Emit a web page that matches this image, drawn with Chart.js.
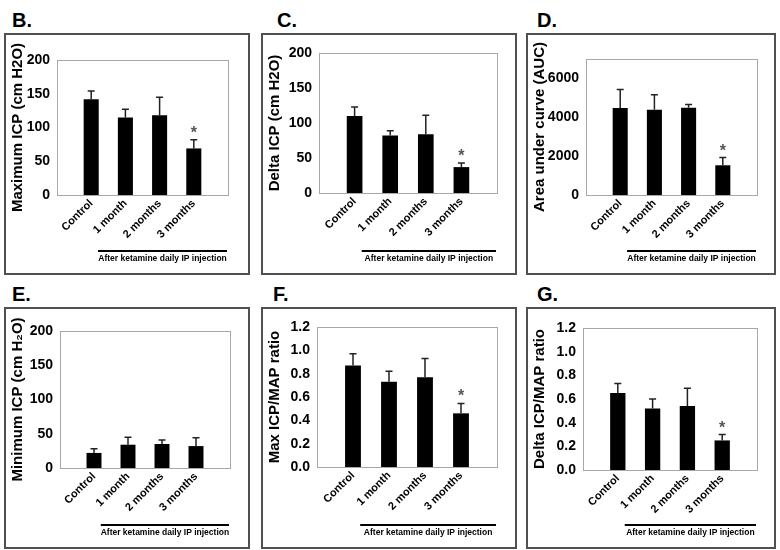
<!DOCTYPE html>
<html><head><meta charset="utf-8">
<script src="https://cdn.jsdelivr.net/npm/chart.js@4.4.0/dist/chart.umd.min.js"></script>
<style>
body{margin:0;background:#fff;width:780px;height:550px;position:relative;overflow:hidden;font-family:"Liberation Sans",Arial,sans-serif;}
.lbl{position:absolute;font-weight:bold;font-size:20px;line-height:20px;color:#000;}
.wrap{position:absolute;}
</style></head><body>
<script>
// ---- data ----
const categories = ["Control", "1 month", "2 months", "3 months"];
const groupLabel = "After ketamine daily IP injection";

const maxIcp = [142, 115, 118, 69];
const maxIcpErr = [12, 12, 27, 13];
const deltaIcp = [110, 82, 84, 37];
const deltaIcpErr = [13, 7, 27, 6];
const auc = [4480, 4390, 4490, 1530];
const aucErr = [950, 770, 170, 400];
const minIcp = [22, 34, 35, 32];
const minIcpErr = [6, 11, 6, 12];
const maxRatio = [0.87, 0.73, 0.77, 0.46];
const maxRatioErr = [0.10, 0.09, 0.16, 0.085];
const deltaRatio = [0.65, 0.52, 0.54, 0.25];
const deltaRatioErr = [0.08, 0.08, 0.15, 0.05];

const sigMarked = [false, false, false, true];
const sigNone = [false, false, false, false];

const ticksIcp = [0, 50, 100, 150, 200];
const ticksAuc = [0, 2000, 4000, 6000];
const ticksRatio = [0, 0.2, 0.4, 0.6, 0.8, 1.0, 1.2];

const FAM = '"Liberation Sans", Arial, sans-serif';

const panels = [
  {letter:"B.", lx:12, ly:10, box:[4,33,246,242], yW:53, padTop:27, padRight:22, xH:80,
   title:"Maximum ICP (cm H2O)", values:maxIcp, errs:maxIcpErr, sig:sigMarked, ticks:ticksIcp, max:200, dec:0},
  {letter:"C.", lx:277, ly:10, box:[261,33,256,242], yW:58, padTop:20, padRight:20, xH:82,
   title:"Delta ICP (cm H2O)", values:deltaIcp, errs:deltaIcpErr, sig:sigMarked, ticks:ticksIcp, max:200, dec:0},
  {letter:"D.", lx:537, ly:10, box:[526,33,250,242], yW:60, padTop:26, padRight:19, xH:80,
   title:"Area under curve (AUC)", values:auc, errs:aucErr, sig:sigMarked, ticks:ticksAuc, max:7000, dec:0},
  {letter:"E.", lx:12, ly:284, box:[4,307,246,242], yW:56, padTop:24, padRight:20, xH:81,
   title:"Minimum ICP (cm H\u2082O)", values:minIcp, errs:minIcpErr, sig:sigNone, ticks:ticksIcp, max:200, dec:0},
  {letter:"F.", lx:273, ly:284, box:[261,307,256,242], yW:56, padTop:20, padRight:20, xH:82,
   title:"Max ICP/MAP ratio", values:maxRatio, errs:maxRatioErr, sig:sigMarked, ticks:ticksRatio, max:1.2, dec:1},
  {letter:"G.", lx:537, ly:284, box:[526,307,250,242], yW:57, padTop:21, padRight:19, xH:79,
   title:"Delta ICP/MAP ratio", values:deltaRatio, errs:deltaRatioErr, sig:sigMarked, ticks:ticksRatio, max:1.2, dec:1}
];

// padded category axis: empty slot at each end so bars sit at 1/5 .. 4/5 of the plot width
const xLabels = [""].concat(categories, [""]);

const panelPlugin = {
  id: 'panelDeco',
  beforeDatasetsDraw(chart) {
    const ctx = chart.ctx, a = chart.chartArea;
    ctx.save();
    ctx.strokeStyle = '#a8a8a8';
    ctx.lineWidth = 1;
    ctx.strokeRect(Math.round(a.left) + 0.5, Math.round(a.top) + 0.5, Math.round(a.right - a.left), Math.round(a.bottom - a.top));
    ctx.restore();
  },
  afterDatasetsDraw(chart) {
    const ctx = chart.ctx, a = chart.chartArea;
    const p = chart.config.options.plugins.panelDeco;
    const xs = chart.scales.x, ys = chart.scales.y;
    ctx.save();
    // error bars
    ctx.strokeStyle = '#222';
    ctx.lineWidth = 1.5;
    p.values.forEach((v, i) => {
      const x = xs.getPixelForValue(i + 1);
      const y0 = ys.getPixelForValue(v);
      const y1 = ys.getPixelForValue(v + p.errs[i]);
      ctx.beginPath();
      ctx.moveTo(x, y0); ctx.lineTo(x, y1);
      ctx.moveTo(x - 3.5, y1); ctx.lineTo(x + 3.5, y1);
      ctx.stroke();
      if (p.sig[i]) {
        ctx.fillStyle = '#555';
        ctx.font = 'bold 16px ' + FAM;
        ctx.textAlign = 'center';
        ctx.textBaseline = 'alphabetic';
        ctx.fillText('*', x, y1 - 2);
      }
    });
    // group bracket
    const h = chart.height, w = chart.width;
    const lx0 = xs.getPixelForValue(1.2), lx1 = a.right - 1;
    const ly = h - 24;
    ctx.strokeStyle = '#000';
    ctx.lineWidth = 2;
    ctx.beginPath(); ctx.moveTo(lx0, ly); ctx.lineTo(lx1, ly); ctx.stroke();
    ctx.fillStyle = '#000';
    ctx.font = 'bold 8.5px ' + FAM;
    ctx.textAlign = 'center';
    ctx.textBaseline = 'middle';
    ctx.fillText(groupLabel, (lx0 + lx1) / 2, ly + 8);
    // panel box
    ctx.strokeStyle = '#505050';
    ctx.lineWidth = 2;
    ctx.strokeRect(1, 1, w - 2, h - 2);
    ctx.restore();
  }
};

panels.forEach(p => {
  const lab = document.createElement('div');
  lab.className = 'lbl';
  lab.style.left = p.lx + 'px'; lab.style.top = p.ly + 'px';
  lab.textContent = p.letter;
  document.body.appendChild(lab);

  const wrap = document.createElement('div');
  wrap.className = 'wrap';
  wrap.style.left = p.box[0] + 'px'; wrap.style.top = p.box[1] + 'px';
  wrap.style.width = p.box[2] + 'px'; wrap.style.height = p.box[3] + 'px';
  const c = document.createElement('canvas');
  c.width = p.box[2]; c.height = p.box[3];
  c.style.width = p.box[2] + 'px'; c.style.height = p.box[3] + 'px';
  wrap.appendChild(c);
  document.body.appendChild(wrap);

  new Chart(c, {
    type: 'bar',
    data: {
      labels: xLabels,
      datasets: [{data: [null].concat(p.values, [null]), backgroundColor: '#000', borderWidth: 0, barPercentage: 0.44, categoryPercentage: 1}]
    },
    options: {
      responsive: false, animation: false,
      layout: {padding: {left: 0, top: p.padTop, right: p.padRight, bottom: 0}},
      plugins: {
        legend: {display: false}, tooltip: {enabled: false},
        panelDeco: {values: p.values, errs: p.errs, sig: p.sig}
      },
      scales: {
        x: {
          offset: false,
          grid: {display: false, drawTicks: false}, border: {display: false},
          ticks: {color: '#000', font: {weight: 'bold', size: 11, family: FAM}, maxRotation: 45, minRotation: 45, padding: 2, autoSkip: false},
          afterFit(s) { s.height = p.xH; }
        },
        y: {
          min: 0, max: p.max,
          grid: {display: false, drawTicks: false}, border: {display: false},
          afterBuildTicks(s) { s.ticks = p.ticks.map(v => ({value: v})); },
          ticks: {color: '#000', font: {weight: 'bold', size: 14, family: FAM}, padding: 7,
                  callback: v => Number(v).toFixed(p.dec)},
          title: {display: true, text: p.title, color: '#000', font: {weight: 'bold', size: 15, family: FAM}, padding: {top: 5, bottom: 0}},
          afterFit(s) { s.width = p.yW; }
        }
      }
    },
    plugins: [panelPlugin]
  });
});
</script>
</body></html>
